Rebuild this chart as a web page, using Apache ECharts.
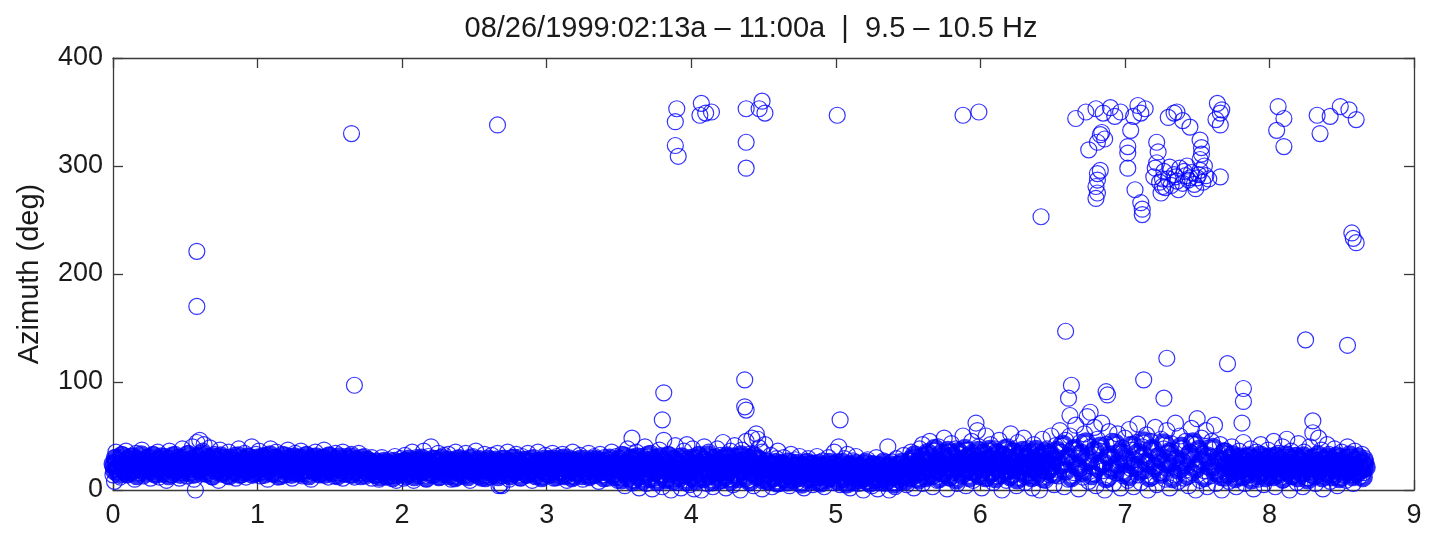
<!DOCTYPE html>
<html>
<head>
<meta charset="utf-8">
<script src="https://cdn.jsdelivr.net/npm/echarts@6/dist/echarts.min.js"></script>
<style>
html,body{margin:0;padding:0;background:#fff;}
#chart{width:1429px;height:535px;}
</style>
</head>
<body>
<div id="chart"></div>
<script>
// ---- Data (time in hours since start, azimuth in degrees), flat [x,y,x,y,...] ----
const xTicks = [0,1,2,3,4,5,6,7,8,9];
const yTicks = [0,100,200,300,400];
const titleText = "08/26/1999:02:13a \u2013 11:00a  |  9.5 \u2013 10.5 Hz";
const yLabel = "Azimuth (deg)";

const band0to1 = [
0.00,22,0.00,14,0.01,30,0.01,8,0.02,25,0.02,35,0.03,19,0.04,28,0.05,12,0.06,33,0.06,22,0.07,17,0.08,27,0.09,36,0.09,20,
0.10,14,0.11,25,0.12,31,0.13,19,0.14,23,0.15,10,0.16,34,0.17,26,0.18,16,0.19,29,0.19,21,
0.20,37,0.21,13,0.22,24,0.23,30,0.24,18,0.25,27,0.26,11,0.27,22,0.28,33,0.29,15,0.29,26,
0.30,20,0.31,35,0.32,12,0.33,28,0.34,23,0.35,17,0.36,31,0.37,9,0.38,25,0.39,36,0.39,19,
0.40,29,0.41,14,0.42,24,0.43,33,0.44,18,0.45,27,0.46,11,0.47,21,0.48,38,0.49,16,0.49,30,
0.50,23,0.51,13,0.52,34,0.53,26,0.54,19,0.55,40,0.56,10,0.57,28,0.58,44,0.59,22,0.60,46,0.61,15,0.62,36,0.63,42,0.64,25,0.65,31,0.66,18,0.67,39,
0.68,24,0.69,12,0.70,33,0.71,20,0.72,28,0.73,9,0.74,37,0.75,23,0.76,16,0.77,30,0.78,26,0.79,13,
0.80,35,0.81,21,0.82,27,0.83,17,0.84,32,0.85,11,0.86,24,0.87,38,0.88,19,0.89,29,0.89,14,
0.90,25,0.91,34,0.92,12,0.93,22,0.94,31,0.95,18,0.96,40,0.97,27,0.98,15,0.99,23,0.99,33
];
const band1to2 = [
1.00,20,1.01,36,1.02,13,1.03,28,1.04,24,1.05,17,1.06,32,1.07,10,1.08,26,1.09,38,1.09,21,
1.10,15,1.11,30,1.12,23,1.13,35,1.14,12,1.15,27,1.16,19,1.17,33,1.18,25,1.19,14,1.19,29,
1.20,22,1.21,37,1.22,17,1.23,31,1.24,11,1.25,26,1.26,34,1.27,20,1.28,28,1.29,15,1.29,24,
1.30,36,1.31,13,1.32,29,1.33,22,1.34,33,1.35,18,1.36,26,1.37,10,1.38,31,1.39,23,1.39,16,
1.40,35,1.41,20,1.42,27,1.43,14,1.44,30,1.45,24,1.46,37,1.47,17,1.48,28,1.49,12,1.49,22,
1.50,32,1.51,19,1.52,26,1.53,13,1.54,34,1.55,23,1.56,16,1.57,29,1.58,21,1.59,35,1.59,11,
1.60,25,1.61,31,1.62,18,1.63,27,1.64,14,1.65,33,1.66,22,1.67,12,1.68,29,1.69,19,1.69,24,
1.70,34,1.71,16,1.72,26,1.73,21,1.74,31,1.75,13,1.76,24,1.77,28,1.78,18,1.79,30,1.79,11,
1.80,22,1.81,14,1.82,27,1.83,18,1.84,10,1.85,24,1.86,30,1.87,16,1.88,21,1.89,12,1.89,26,
1.90,19,1.91,28,1.92,13,1.93,23,1.94,17,1.95,31,1.96,9,1.97,25,1.98,20,1.99,15,1.99,29
];
const band2to3 = [
2.00,24,2.01,11,2.02,32,2.03,18,2.04,27,2.05,14,2.06,21,2.07,35,2.08,9,2.09,25,2.09,17,
2.10,30,2.11,22,2.12,13,2.13,28,2.14,19,2.15,36,2.16,24,2.17,10,2.18,31,2.19,16,2.19,26,
2.20,40,2.21,20,2.22,14,2.23,29,2.24,23,2.25,34,2.26,12,2.27,27,2.28,18,2.29,32,2.29,21,
2.30,15,2.31,25,2.32,33,2.33,19,2.34,10,2.35,28,2.36,22,2.37,35,2.38,16,2.39,26,2.39,12,
2.40,30,2.41,20,2.42,24,2.43,13,2.44,34,2.45,18,2.46,27,2.47,9,2.48,22,2.49,31,2.49,15,
2.50,25,2.51,36,2.52,17,2.53,21,2.54,29,2.55,11,2.56,26,2.57,33,2.58,19,2.59,14,2.59,23,
2.60,28,2.61,12,2.62,32,2.63,20,2.64,25,2.65,16,2.66,34,2.67,4,2.68,5,2.68,22,2.69,4,2.69,29,2.70,13,
2.71,26,2.72,19,2.73,35,2.74,10,2.75,23,2.76,30,2.77,15,2.78,27,2.79,21,2.79,33,
2.80,17,2.81,24,2.82,11,2.83,31,2.84,20,2.85,28,2.86,14,2.87,34,2.88,22,2.89,18,2.89,26,
2.90,9,2.91,30,2.92,23,2.93,16,2.94,35,2.95,21,2.96,27,2.97,12,2.98,25,2.99,32,2.99,18
];
const band3to4 = [
3.00,22,3.01,14,3.02,29,3.03,19,3.04,34,3.05,11,3.06,25,3.07,31,3.08,17,3.09,23,3.09,27,
3.10,13,3.11,33,3.12,20,3.13,26,3.14,9,3.15,30,3.16,16,3.17,24,3.18,35,3.19,19,3.19,12,
3.20,28,3.21,22,3.22,15,3.23,32,3.24,25,3.25,10,3.26,20,3.27,29,3.28,17,3.29,34,3.29,23,
3.30,13,3.31,27,3.32,21,3.33,31,3.34,16,3.35,24,3.36,8,3.37,33,3.38,19,3.39,26,3.39,14,
3.40,30,3.41,22,3.42,11,3.43,28,3.44,18,3.45,35,3.46,24,3.47,15,3.48,31,3.49,20,3.49,9,
3.50,26,3.51,12,3.52,33,3.53,18,3.54,4,3.55,24,3.56,38,3.57,15,3.58,29,3.59,21,3.59,48,
3.60,9,3.61,27,3.62,35,3.63,17,3.64,2,3.65,23,3.66,31,3.67,13,3.68,40,3.69,20,3.69,6,
3.70,28,3.71,16,3.72,34,3.73,1,3.74,22,3.75,11,3.76,30,3.77,25,3.78,37,3.79,14,3.79,19,
3.80,3,3.81,46,3.82,26,3.83,10,3.84,33,3.85,21,3.86,0,3.87,29,3.88,16,3.89,41,3.89,24,
3.90,7,3.91,31,3.92,18,3.93,2,3.94,27,3.95,36,3.96,13,3.97,42,3.98,22,3.99,5,3.99,30
];
const band4to5 = [
4.00,17,4.01,38,4.02,1,4.03,25,4.04,11,4.05,33,4.06,20,4.07,0,4.08,28,4.09,15,4.09,40,
4.10,23,4.11,6,4.12,35,4.13,19,4.14,30,4.15,3,4.16,26,4.17,12,4.18,38,4.19,21,4.19,8,
4.20,32,4.21,16,4.22,44,4.23,25,4.24,2,4.25,29,4.26,10,4.27,36,4.28,19,4.29,5,4.29,27,
4.30,41,4.31,14,4.32,31,4.33,22,4.34,0,4.35,37,4.36,17,4.38,45,4.39,26,4.39,9,
4.40,33,4.41,20,4.42,48,4.43,4,4.44,29,4.45,52,4.46,13,4.46,47,4.47,39,4.48,24,4.49,1,4.49,35,
4.50,18,4.51,42,4.52,8,4.53,27,4.54,14,4.55,32,4.56,3,4.57,22,4.58,11,4.59,29,4.59,17,
4.60,36,4.61,6,4.62,24,4.63,15,4.64,30,4.65,10,4.66,20,4.67,27,4.68,4,4.69,16,4.69,33,
4.70,22,4.71,12,4.72,28,4.73,7,4.74,19,4.75,31,4.76,14,4.77,24,4.78,2,4.79,18,4.79,26,
4.80,9,4.81,29,4.82,15,4.83,21,4.84,5,4.85,25,4.86,12,4.87,31,4.88,18,4.89,8,4.89,23,
4.90,14,4.91,27,4.92,3,4.93,20,4.94,11,4.95,30,4.96,16,4.97,24,4.98,7,4.99,19,4.99,35
];
const band5to6 = [
5.00,13,5.01,26,5.02,40,5.03,5,5.04,21,5.05,17,5.06,29,5.07,9,5.08,33,5.09,14,5.09,23,
5.10,2,5.11,19,5.12,27,5.13,11,5.14,31,5.15,16,5.16,6,5.17,22,5.18,13,5.19,25,5.19,0,
5.20,18,5.21,8,5.22,28,5.23,15,5.24,21,5.25,4,5.26,24,5.27,12,5.28,30,5.29,17,5.29,1,
5.30,23,5.31,10,5.32,19,5.33,27,5.34,6,5.35,14,5.36,40,5.36,22,5.37,0,5.38,17,5.39,26,5.39,11,
5.40,20,5.41,3,5.42,29,5.43,15,5.44,24,5.45,8,5.46,18,5.47,32,5.48,12,5.49,22,5.49,5,
5.50,27,5.51,14,5.52,35,5.53,20,5.54,2,5.55,30,5.56,10,5.57,24,5.58,38,5.59,17,5.60,42,5.60,6,
5.61,28,5.62,21,5.63,33,5.64,12,5.65,45,5.66,25,5.67,3,5.68,36,5.69,18,5.69,29,
5.70,9,5.71,40,5.72,23,5.73,31,5.74,15,5.75,48,5.76,26,5.77,1,5.78,35,5.79,20,5.79,11,
5.80,43,5.81,28,5.82,16,5.83,38,5.84,6,5.85,24,5.86,33,5.87,13,5.88,50,5.89,21,5.89,30,
5.90,4,5.91,37,5.92,26,5.93,17,5.94,45,5.95,9,5.96,31,5.97,62,5.97,22,5.98,55,5.99,14,5.99,40
];
const band6to7 = [
6.00,27,6.01,2,6.02,35,6.03,19,6.04,50,6.05,11,6.06,30,6.07,42,6.08,24,6.09,7,6.09,16,
6.10,38,6.11,28,6.12,13,6.13,46,6.14,21,6.15,0,6.16,33,6.17,25,6.18,9,6.19,40,6.19,18,
6.20,30,6.21,52,6.22,14,6.23,36,6.24,23,6.25,4,6.26,44,6.27,27,6.28,11,6.29,34,6.29,19,
6.30,48,6.31,7,6.32,29,6.33,38,6.34,16,6.35,25,6.36,2,6.37,42,6.38,21,6.39,31,6.39,12,
6.40,35,6.41,0,6.42,26,6.43,47,6.44,18,6.45,9,6.46,38,6.47,24,6.48,14,6.49,32,6.49,50,
6.50,22,6.51,5,6.52,41,6.53,28,6.54,13,6.55,55,6.56,35,6.57,19,6.58,3,6.59,46,6.59,26,
6.60,31,6.61,10,6.62,50,6.63,23,6.64,38,6.65,16,6.66,60,6.67,29,6.68,1,6.69,44,6.69,20,
6.70,35,6.71,12,6.72,52,6.73,27,6.74,68,6.75,8,6.76,40,6.77,22,6.78,33,6.79,15,6.79,58,
6.80,4,6.81,47,6.82,25,6.83,36,6.84,62,6.85,18,6.86,0,6.87,42,6.88,30,6.89,11,6.89,54,
6.90,21,6.91,45,6.92,6,6.93,34,6.94,16,6.95,52,6.96,27,6.97,2,6.98,39,6.99,13,6.99,24
];
const band7to8 = [
7.00,48,7.01,31,7.02,9,7.03,56,7.04,20,7.05,37,7.06,3,7.07,28,7.08,44,7.09,14,7.09,61,
7.10,24,7.11,7,7.12,40,7.13,33,7.14,18,7.15,51,7.16,0,7.17,29,7.18,45,7.19,12,7.19,36,
7.20,22,7.21,58,7.22,5,7.23,31,7.24,16,7.25,47,7.26,26,7.27,38,7.28,10,7.29,55,7.29,20,
7.30,34,7.31,2,7.32,43,7.33,25,7.34,14,7.35,62,7.36,30,7.37,8,7.38,50,7.39,19,7.39,38,
7.40,27,7.41,11,7.42,45,7.43,22,7.44,4,7.45,35,7.46,57,7.47,16,7.48,29,7.49,42,7.49,0,
7.50,66,7.51,24,7.52,9,7.53,48,7.54,33,7.55,18,7.56,55,7.57,3,7.58,39,7.59,26,7.59,13,
7.60,45,7.61,21,7.62,60,7.63,6,7.64,31,7.65,15,7.66,42,7.67,0,7.68,27,7.69,36,7.69,11,
7.70,20,7.71,33,7.72,8,7.73,25,7.74,40,7.75,15,7.76,29,7.77,3,7.78,22,7.79,36,7.79,12,
7.80,27,7.81,18,7.82,44,7.83,6,7.84,31,7.85,21,7.86,14,7.87,38,7.88,24,7.89,1,7.89,29,
7.90,17,7.91,35,7.92,10,7.93,26,7.94,42,7.95,20,7.96,5,7.97,31,7.98,15,7.99,23,7.99,37
];
const band8to9 = [
8.00,12,8.01,28,8.02,19,8.03,45,8.04,3,8.05,25,8.06,34,8.07,16,8.08,22,8.09,40,8.09,9,
8.10,30,8.11,18,8.12,47,8.13,26,8.14,0,8.15,36,8.16,13,8.17,21,8.18,32,8.19,7,8.19,27,
8.20,43,8.21,16,8.22,24,8.23,3,8.24,35,8.25,19,8.26,29,8.27,11,8.28,40,8.29,22,8.29,14,
8.30,53,8.31,31,8.32,6,8.33,25,8.34,48,8.35,17,8.36,37,8.37,1,8.38,28,8.39,12,8.39,21,
8.40,42,8.41,33,8.42,8,8.43,24,8.44,15,8.45,38,8.46,27,8.47,4,8.48,20,8.49,31,8.49,11,
8.50,35,8.51,18,8.52,26,8.53,9,8.54,40,8.55,22,8.56,14,8.57,30,8.58,6,8.59,24,8.59,36,
8.60,17,8.61,28,8.62,12,8.63,21,8.64,33,8.65,25,8.65,16,8.66,20,8.66,29
];
// dense core of the band (where the reference is solid blue)
const core0to1 = [
0.005,24,0.015,18,0.025,29,0.035,21,0.045,15,0.055,26,0.065,31,0.075,19,0.085,23,0.095,16,
0.105,28,0.115,22,0.125,17,0.135,30,0.145,25,0.155,20,0.165,14,0.175,27,0.185,23,0.195,32,
0.205,19,0.215,26,0.225,16,0.235,22,0.245,29,0.255,24,0.265,18,0.275,31,0.285,21,0.295,15,
0.305,27,0.315,23,0.325,19,0.335,30,0.345,16,0.355,25,0.365,21,0.375,28,0.385,14,0.395,24,
0.405,20,0.415,31,0.425,17,0.435,26,0.445,22,0.455,29,0.465,15,0.475,24,0.485,19,0.495,27,
0.505,21,0.515,32,0.525,17,0.535,23,0.545,28,0.555,15,0.565,25,0.575,20,0.585,30,0.595,24,
0.605,18,0.615,33,0.625,22,0.635,27,0.645,16,0.655,29,0.665,21,0.675,25,0.685,14,0.695,30,
0.705,23,0.715,18,0.725,27,0.735,20,0.745,31,0.755,16,0.765,24,0.775,28,0.785,19,0.795,22,
0.805,14,0.815,29,0.825,23,0.835,17,0.845,26,0.855,21,0.865,31,0.875,15,0.885,25,0.895,20,
0.905,28,0.915,17,0.925,24,0.935,30,0.945,19,0.955,22,0.965,15,0.975,27,0.985,21,0.995,29
];
const core1to2 = [
1.005,17,1.015,25,1.025,21,1.035,30,1.045,15,1.055,23,1.065,28,1.075,19,1.085,32,1.095,22,
1.105,26,1.115,16,1.125,29,1.135,20,1.145,24,1.155,14,1.165,27,1.175,22,1.185,31,1.195,18,
1.205,25,1.215,20,1.225,28,1.235,15,1.245,23,1.255,30,1.265,17,1.275,24,1.285,21,1.295,29,
1.305,16,1.315,26,1.325,19,1.335,31,1.345,23,1.355,14,1.365,28,1.375,21,1.385,25,1.395,18,
1.405,30,1.415,22,1.425,16,1.435,27,1.445,20,1.455,29,1.465,15,1.475,24,1.485,19,1.495,31,
1.505,23,1.515,17,1.525,28,1.535,21,1.545,25,1.555,14,1.565,30,1.575,19,1.585,26,1.595,22,
1.605,16,1.615,28,1.625,23,1.635,20,1.645,30,1.655,15,1.665,25,1.675,18,1.685,27,1.695,21,
1.705,24,1.715,14,1.725,29,1.735,19,1.745,23,1.755,27,1.765,16,1.775,21,1.785,25,1.795,18,
1.805,22,1.815,15,1.825,25,1.835,19,1.845,13,1.855,23,1.865,17,1.875,26,1.885,20,1.895,14,
1.905,24,1.915,18,1.925,22,1.935,12,1.945,26,1.955,19,1.965,15,1.975,23,1.985,20,1.995,25
];
const core2to3 = [
2.005,19,2.015,26,2.025,14,2.035,22,2.045,28,2.055,17,2.065,24,2.075,20,2.085,13,2.095,27,
2.105,21,2.115,16,2.125,25,2.135,29,2.145,18,2.155,23,2.165,12,2.175,26,2.185,20,2.195,24,
2.205,15,2.215,28,2.225,22,2.235,18,2.245,26,2.255,13,2.265,21,2.275,29,2.285,16,2.295,24,
2.305,20,2.315,27,2.325,14,2.335,23,2.345,18,2.355,25,2.365,12,2.375,21,2.385,28,2.395,17,
2.405,23,2.415,15,2.425,27,2.435,20,2.445,25,2.455,13,2.465,22,2.475,29,2.485,18,2.495,24,
2.505,16,2.515,21,2.525,27,2.535,14,2.545,23,2.555,19,2.565,26,2.575,12,2.585,22,2.595,28,
2.605,17,2.615,24,2.625,20,2.635,15,2.645,27,2.655,22,2.665,13,2.675,25,2.685,19,2.695,23,
2.705,28,2.715,16,2.725,21,2.735,26,2.745,14,2.755,24,2.765,19,2.775,29,2.785,17,2.795,22,
2.805,26,2.815,13,2.825,23,2.835,18,2.845,27,2.855,21,2.865,15,2.875,25,2.885,20,2.895,28,
2.905,17,2.915,23,2.925,14,2.935,26,2.945,19,2.955,24,2.965,12,2.975,21,2.985,28,2.995,16
];
const core3to4 = [
3.005,22,3.015,27,3.025,15,3.035,24,3.045,19,3.055,28,3.065,13,3.075,21,3.085,26,3.095,17,
3.105,23,3.115,29,3.125,14,3.135,20,3.145,25,3.155,18,3.165,27,3.175,12,3.185,22,3.195,26,
3.205,16,3.215,24,3.225,20,3.235,28,3.245,14,3.255,23,3.265,18,3.275,26,3.285,21,3.295,13,
3.305,25,3.315,19,3.325,28,3.335,15,3.345,22,3.355,27,3.365,17,3.375,24,3.385,20,3.395,12,
3.405,26,3.415,18,3.425,23,3.435,29,3.445,15,3.455,21,3.465,25,3.475,13,3.485,24,3.495,19,
3.505,28,3.515,10,3.525,22,3.535,31,3.545,16,3.555,25,3.565,12,3.575,20,3.585,29,3.595,8,
3.605,23,3.615,17,3.625,30,3.635,13,3.645,26,3.655,20,3.665,9,3.675,27,3.685,15,3.695,24,
3.705,32,3.715,11,3.725,21,3.735,28,3.745,17,3.755,25,3.765,8,3.775,22,3.785,30,3.795,14,
3.805,19,3.815,27,3.825,10,3.835,24,3.845,31,3.855,16,3.865,21,3.875,9,3.885,28,3.895,18,
3.905,25,3.915,12,3.925,22,3.935,30,3.945,15,3.955,20,3.965,8,3.975,27,3.985,17,3.995,24
];
const core4to5 = [
4.005,12,4.015,29,4.025,20,4.035,9,4.045,25,4.055,31,4.065,16,4.075,22,4.085,11,4.095,27,
4.105,18,4.115,32,4.125,14,4.135,24,4.145,8,4.155,21,4.165,29,4.175,15,4.185,26,4.195,19,
4.205,10,4.215,28,4.225,22,4.235,13,4.245,31,4.255,17,4.265,24,4.275,9,4.285,21,4.295,30,
4.305,15,4.315,26,4.325,11,4.335,23,4.345,32,4.355,18,4.365,27,4.375,12,4.385,20,4.395,29,
4.405,8,4.415,25,4.425,16,4.435,31,4.445,21,4.455,13,4.465,28,4.475,18,4.485,24,4.495,10,
4.505,22,4.515,14,4.525,25,4.535,9,4.545,19,4.555,23,4.565,12,4.575,17,4.585,25,4.595,7,
4.605,20,4.615,15,4.625,24,4.635,11,4.645,18,4.655,22,4.665,8,4.675,14,4.685,25,4.695,19,
4.705,10,4.715,21,4.725,16,4.735,24,4.745,12,4.755,19,4.765,6,4.775,22,4.785,15,4.795,20,
4.805,25,4.815,11,4.825,18,4.835,23,4.845,9,4.855,16,4.865,21,4.875,13,4.885,24,4.895,7,
4.905,19,4.915,14,4.925,22,4.935,10,4.945,17,4.955,25,4.965,12,4.975,20,4.985,15,4.995,23
];
const core5to6 = [
5.005,18,5.015,9,5.025,22,5.035,14,5.045,25,5.055,11,5.065,19,5.075,6,5.085,16,5.095,23,
5.105,13,5.115,20,5.125,8,5.135,24,5.145,15,5.155,19,5.165,10,5.175,22,5.185,17,5.195,12,
5.205,25,5.215,14,5.225,20,5.235,7,5.245,17,5.255,23,5.265,10,5.275,19,5.285,14,5.295,22,
5.305,8,5.315,16,5.325,24,5.335,12,5.345,20,5.355,9,5.365,17,5.375,23,5.385,13,5.395,19,
5.405,6,5.415,15,5.425,22,5.435,11,5.445,18,5.455,25,5.465,13,5.475,20,5.485,9,5.495,17,
5.505,23,5.515,12,5.525,28,5.535,18,5.545,32,5.555,15,5.565,25,5.575,10,5.585,21,5.595,30,
5.605,17,5.615,26,5.625,12,5.635,34,5.645,20,5.655,28,5.665,14,5.675,24,5.685,38,5.695,18,
5.705,27,5.715,11,5.725,22,5.735,33,5.745,16,5.755,29,5.765,20,5.775,36,5.785,13,5.795,25,
5.805,31,5.815,18,5.825,24,5.835,10,5.845,35,5.855,21,5.865,28,5.875,15,5.885,26,5.895,38,
5.905,19,5.915,30,5.925,12,5.935,24,5.945,33,5.955,17,5.965,27,5.975,21,5.985,36,5.995,14
];
const core6to7 = [
6.005,26,6.015,19,6.025,33,6.035,12,6.045,28,6.055,22,6.065,37,6.075,16,6.085,30,6.095,24,
6.105,11,6.115,34,6.125,20,6.135,27,6.145,15,6.155,31,6.165,23,6.175,38,6.185,18,6.195,29,
6.205,13,6.215,25,6.225,35,6.235,20,6.245,28,6.255,10,6.265,32,6.275,22,6.285,17,6.295,36,
6.305,24,6.315,14,6.325,30,6.335,21,6.345,34,6.355,12,6.365,27,6.375,19,6.385,37,6.395,25,
6.405,16,6.415,31,6.425,22,6.435,11,6.445,35,6.455,26,6.465,18,6.475,33,6.485,21,6.495,28,
6.51,15,6.53,36,6.55,24,6.57,42,6.59,18,6.61,30,6.63,12,6.65,38,6.67,22,6.69,33,
6.71,17,6.73,44,6.75,27,6.77,14,6.79,36,6.81,21,6.83,40,6.85,25,6.87,11,6.89,32,
6.91,19,6.93,43,6.95,24,6.97,35,6.99,16
];
const core7to8 = [
7.01,28,7.03,13,7.05,41,7.07,22,7.09,34,7.11,18,7.13,45,7.15,26,7.17,12,7.19,38,
7.21,21,7.23,30,7.25,15,7.27,43,7.29,25,7.31,35,7.33,11,7.35,28,7.37,19,7.39,40,
7.41,24,7.43,14,7.45,33,7.47,44,7.49,20,7.51,37,7.53,27,7.55,12,7.57,31,7.59,22,
7.61,39,7.63,17,7.65,28,7.67,13,7.69,35,
7.705,24,7.715,15,7.725,29,7.735,19,7.745,32,7.755,22,7.765,11,7.775,26,7.785,18,7.795,30,
7.805,21,7.815,13,7.825,27,7.835,23,7.845,16,7.855,31,7.865,20,7.875,10,7.885,25,7.895,19,
7.905,29,7.915,22,7.925,14,7.935,32,7.945,24,7.955,17,7.965,27,7.975,12,7.985,21,7.995,30
];
const core8to9 = [
8.005,18,8.015,26,8.025,13,8.035,23,8.045,31,8.055,20,8.065,15,8.075,28,8.085,22,8.095,11,
8.105,25,8.115,32,8.125,17,8.135,21,8.145,29,8.155,14,8.165,24,8.175,19,8.185,30,8.195,12,
8.205,22,8.215,27,8.225,16,8.235,31,8.245,20,8.255,25,8.265,10,8.275,23,8.285,18,8.295,29,
8.305,21,8.315,14,8.325,26,8.335,32,8.345,19,8.355,24,8.365,12,8.375,28,8.385,22,8.395,16,
8.405,30,8.415,20,8.425,25,8.435,13,8.445,27,8.455,18,8.465,31,8.475,23,8.485,11,8.495,26,
8.505,21,8.515,15,8.525,29,8.535,24,8.545,17,8.555,32,8.565,20,8.575,13,8.585,27,8.595,22,
8.605,16,8.615,30,8.625,24,8.635,19,8.645,12,8.655,26,8.665,21
];
const outliers = [
0.57,0,0.58,221,0.58,170,1.65,330,1.67,97,2.66,338,
3.81,90,3.80,65,4.37,102,4.37,77,4.38,74,5.03,65,8.30,64,
3.90,353,3.89,341,4.07,358,4.10,349,4.06,347,4.14,350,3.89,319,3.91,309,
4.38,353,4.49,360,4.51,349,4.47,353,4.38,322,4.38,298,
5.01,347,5.88,347,5.99,350,6.42,253,
6.66,344,6.73,350,6.80,353,6.85,349,6.90,354,6.97,350,6.93,346,
7.06,346,7.09,356,7.11,349,7.14,353,
7.34,349,7.36,350,7.30,345,7.45,336,7.40,342,
7.64,358,7.66,349,7.63,343,7.66,338,7.67,352,
6.83,329,6.81,322,6.86,325,6.75,315,6.84,331,
7.04,333,7.02,318,7.02,312,7.02,298,7.07,278,7.11,266,7.12,255,7.12,260,
6.81,293,6.81,287,6.80,281,6.81,275,6.80,270,6.83,296,
7.22,322,7.23,313,7.22,303,7.52,324,7.53,317,7.53,311,7.52,306,7.66,290,7.25,275,7.26,281,
7.20,290,7.24,285,7.27,295,7.30,288,7.32,282,7.34,292,7.36,286,7.38,298,7.40,284,7.42,291,
7.44,287,7.46,294,7.48,283,7.50,289,7.52,296,7.54,285,7.56,291,7.58,288,7.28,280,7.31,299,
7.37,278,7.43,300,7.49,279,7.55,300,7.21,298,7.45,289,7.35,290,7.51,292,7.26,288,7.41,295,
8.06,355,8.10,344,8.05,333,8.10,318,
8.33,347,8.35,330,8.42,346,8.49,355,8.55,352,8.60,343,
8.57,238,8.60,229,8.58,233,8.25,139,8.54,134,
7.71,117,7.82,94,7.82,82,7.81,62,
6.59,147,6.63,97,6.61,85,6.62,69,7.29,122,7.13,102,7.27,85,6.88,88,6.87,91,6.76,72
];

function toPairs(flat){ const out=[]; for(let i=0;i<flat.length;i+=2) out.push([flat[i],flat[i+1]]); return out; }
const bandPoints = [].concat(
  toPairs(band0to1),toPairs(band1to2),toPairs(band2to3),toPairs(band3to4),toPairs(band4to5),
  toPairs(band5to6),toPairs(band6to7),toPairs(band7to8),toPairs(band8to9),toPairs(outliers));
const corePoints = [].concat(
  toPairs(core0to1),toPairs(core1to2),toPairs(core2to3),toPairs(core3to4),toPairs(core4to5),
  toPairs(core5to6),toPairs(core6to7),toPairs(core7to8),toPairs(core8to9));

const chart = echarts.init(document.getElementById('chart'), null, {renderer:'canvas'});
const FONT = 'Liberation Sans, Arial, Helvetica, sans-serif';
const axisCol = '#3a3a3a';
const txtCol = '#1a1a1a';
function xAx(pos, showLabel){
  return {type:'value', position:pos, min:xTicks[0], max:xTicks[xTicks.length-1], interval:1,
    axisLine:{show:true, onZero:false, lineStyle:{color:axisCol,width:1.3}},
    axisTick:{show:true, inside:true, length:10, lineStyle:{color:axisCol,width:1.3}},
    axisLabel:{show:showLabel, fontFamily:FONT, fontSize:27, color:txtCol, margin:12},
    splitLine:{show:false}};
}
function yAx(pos, showLabel){
  return {type:'value', position:pos, min:yTicks[0], max:yTicks[yTicks.length-1], interval:100,
    axisLine:{show:true, onZero:false, lineStyle:{color:axisCol,width:1.3}},
    axisTick:{show:true, inside:true, length:10, lineStyle:{color:axisCol,width:1.3}},
    axisLabel:{show:showLabel, fontFamily:FONT, fontSize:27, color:txtCol, margin:10},
    splitLine:{show:false},
    name: showLabel ? yLabel : '', nameLocation:'middle', nameGap:69, nameRotate:90,
    nameTextStyle:{fontFamily:FONT, fontSize:29, color:txtCol}};
}
chart.setOption({
  animation:false,
  backgroundColor:'#ffffff',
  title:{text:titleText, left:746, top:9, textAlign:'center',
    textStyle:{fontFamily:FONT, fontSize:29, fontWeight:'normal', color:txtCol}},
  grid:{left:113, right:15, top:58, bottom:45, containLabel:false},
  xAxis:[xAx('bottom',true), xAx('top',false)],
  yAxis:[yAx('left',true), yAx('right',false)],
  series:[{
    type:'scatter', xAxisIndex:0, yAxisIndex:0, clip:false,
    symbol:'circle', symbolSize:16,
    itemStyle:{color:'rgba(0,0,0,0)', borderColor:'#0000ff', borderWidth:4.5},
    emphasis:{disabled:true},
    data: corePoints
  },{
    type:'scatter', xAxisIndex:0, yAxisIndex:0, clip:false,
    symbol:'circle', symbolSize:16,
    itemStyle:{color:'rgba(0,0,0,0)', borderColor:'#0000ff', borderWidth:1.2},
    emphasis:{disabled:true},
    data: bandPoints
  }]
});
</script>
</body>
</html>
